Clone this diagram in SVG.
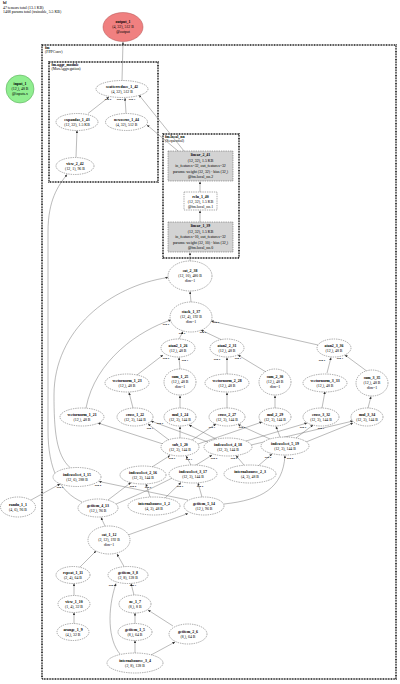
<svg xmlns="http://www.w3.org/2000/svg" width="400" height="684" viewBox="0 0 400 684">
<defs>
<marker id="a" viewBox="0 0 6 6" refX="6" refY="3" markerWidth="2.6" markerHeight="2.6" orient="auto" markerUnits="userSpaceOnUse"><path d="M0,0 L6,3 L0,6 z" fill="#333"/></marker>
<style>
text{font-family:"Liberation Serif","Times New Roman",serif;font-size:3.9px;fill:#000}
.t{text-anchor:middle}
.b{font-weight:bold}
.n ellipse{fill:#fff;stroke:#444;stroke-width:0.45;stroke-dasharray:1.4 0.9}
.g rect{fill:#d3d3d3;stroke:#444;stroke-width:0.45;stroke-dasharray:1.4 0.9}
.r rect{fill:#fff;stroke:#444;stroke-width:0.45;stroke-dasharray:1.4 0.9}
.cl{fill:none;stroke:#000;stroke-width:1.5;stroke-dasharray:0.9 0.7}
#edges path{fill:none;stroke:#666;stroke-width:0.45;marker-end:url(#a)}
.lb{font-size:2.9px;font-weight:bold;text-anchor:middle}
</style>
</defs>
<rect width="400" height="684" fill="#fff"/>
<text x="3" y="4" class="b">bf</text>
<text x="3" y="8.5">47 tensors total (13.1 KB)</text>
<text x="3" y="13">1408 params total (trainable, 5.5 KB)</text>

<g id="clusters">
<rect class="cl" x="42" y="45" width="354" height="634"/>
<text x="45" y="49" class="b">fm</text>
<text x="45" y="53">(FPPConv)</text>
<rect class="cl" x="49" y="62" width="109" height="120"/>
<text x="51.5" y="66" class="b">fm.aggr_module</text>
<text x="51.5" y="70">(MaxAggregation)</text>
<rect class="cl" x="163" y="134" width="76" height="124"/>
<text x="165" y="138" class="b">fm.local_nn</text>
<text x="165" y="142">(Sequential)</text>
</g>

<g id="edges">
<path d="M122,80.5 L123,42"/>
<path d="M126,113 L125,98"/>
<path d="M88,113.5 L109,97"/>
<path d="M184,151 L139,95"/>
<path d="M178,151 L147,125"/>
<path d="M76,157 L77,130.5"/>
<path d="M82,502 C60,492 48,470 48,430 L48,232 C48,200 58,186 67,174.5"/>
<path d="M191,302 L190,291.5"/>
<path d="M70,467.5 C56,455 54,430 54,395 C54,330 110,286 168,277.5"/>
<path d="M190,261 L190,252.5"/>
<path d="M200,222 L200,210.5"/>
<path d="M200,192 L200,181.5"/>
<path d="M86,408 C95,360 140,330 171,320"/>
<path d="M179,339 L183,331.5"/>
<path d="M222,340 L201,330"/>
<path d="M318,345 L211,321"/>
<path d="M137,375 L163,355"/>
<path d="M180,369 L179,357.5"/>
<path d="M227,374 L227,357.5"/>
<path d="M266,372 L238,355"/>
<path d="M327,373 L331,357.5"/>
<path d="M366,370.5 L345,355"/>
<path d="M133,408 L129,392.5"/>
<path d="M180,408 L180,395.5"/>
<path d="M227,408 L227,392.5"/>
<path d="M275,408 L275,395.5"/>
<path d="M322,408 L325,391.5"/>
<path d="M368,408 L371,396.5"/>
<path d="M163,444 L98,423"/>
<path d="M169,440 L148,424"/>
<path d="M180,438 L180,426.5"/>
<path d="M192,440 L216,424"/>
<path d="M198,444 L262,422"/>
<path d="M208,442 L151,421"/>
<path d="M216,439 L189,425"/>
<path d="M246,441 L307,423"/>
<path d="M251,445 L353,421"/>
<path d="M270,439 L238,424.5"/>
<path d="M280,437 L276,426.5"/>
<path d="M296,438 L313,425"/>
<path d="M306,442 L353,423"/>
<path d="M152,467 L170,455.5"/>
<path d="M191,465 L186,456"/>
<path d="M108,500 L131,482.5"/>
<path d="M116,504 C150,490 190,470 212,455"/>
<path d="M188,500 L99,481.5"/>
<path d="M202,497 L198,483"/>
<path d="M224,504 C262,500 283,488 285,455.5"/>
<path d="M150,497 L146,484"/>
<path d="M165,498 L181,482.5"/>
<path d="M244,465 L236,455.5"/>
<path d="M258,466 L272,454"/>
<path d="M31,500 L60,484"/>
<path d="M105,526 L101,517.5"/>
<path d="M128,535 L188,513.5"/>
<path d="M80,567 L96,551"/>
<path d="M124,566.5 L117,554"/>
<path d="M74,595.5 L74,583.5"/>
<path d="M74,623.5 L74,612.5"/>
<path d="M134,595 L131,583.5"/>
<path d="M120,654 C108,640 107,610 116,583.5"/>
<path d="M135,623.5 L135,613"/>
<path d="M173,626 L148,610"/>
<path d="M135,653 L135,640.5"/>
<path d="M151,655 L175,642"/>
</g>

<g id="edge-labels">
<text class="lb" x="108" y="100">arg 2</text>
<text class="lb" x="120" y="100">arg 0</text>
<text class="lb" x="132" y="100">arg 3</text>
<text class="lb" x="166" y="325">arg 0</text>
<text class="lb" x="182" y="334">arg 0</text>
<text class="lb" x="203" y="333">arg 0</text>
<text class="lb" x="216" y="323">arg 0</text>
<text class="lb" x="166" y="359">arg 0</text>
<text class="lb" x="185" y="361">arg 1</text>
<text class="lb" x="217" y="360">arg 0</text>
<text class="lb" x="238" y="359">arg 1</text>
<text class="lb" x="322" y="361">arg 0</text>
<text class="lb" x="340" y="359">arg 1</text>
<text class="lb" x="150" y="429">arg 1</text>
<text class="lb" x="160" y="424">arg 0</text>
<text class="lb" x="212" y="428">arg 1</text>
<text class="lb" x="242" y="428">arg 0</text>
<text class="lb" x="303" y="428">arg 0</text>
<text class="lb" x="321" y="429">arg 1</text>
<text class="lb" x="172" y="459">arg 0</text>
<text class="lb" x="189" y="460">arg 1</text>
<text class="lb" x="60" y="488">arg 0</text>
<text class="lb" x="98" y="486">arg 2</text>
<text class="lb" x="133" y="487">arg 2</text>
<text class="lb" x="148" y="488">arg 0</text>
<text class="lb" x="180" y="487">arg 0</text>
<text class="lb" x="200" y="487">arg 2</text>
<text class="lb" x="214" y="459">arg 2</text>
<text class="lb" x="234" y="459">arg 0</text>
<text class="lb" x="268" y="458">arg 0</text>
<text class="lb" x="290" y="459">arg 2</text>
<text class="lb" x="112" y="586">arg 0</text>
<text class="lb" x="133" y="586">arg 1</text>
</g>

<g id="output_1"><ellipse cx="123" cy="27" rx="20" ry="14.5" fill="#f08080" stroke="#b05050" stroke-width="0.5"/>
<text class="t b" x="123" y="23">output_1</text><text class="t" x="123" y="28">(4, 32), 512 B</text><text class="t" x="123" y="33">@output</text></g>
<g id="input_1"><ellipse cx="20" cy="89" rx="14" ry="14" fill="#90ee90" stroke="#50a050" stroke-width="0.5"/>
<text class="t b" x="20" y="85">input_1</text><text class="t" x="20" y="90">(12,), 48 B</text><text class="t" x="20" y="95">@inputs.x</text></g>

<g id="scatterreduce_1_42" class="n"><ellipse cx="122" cy="89" rx="26" ry="8.5"/><text class="t b" x="122" y="87.5">scatterreduce_1_42</text><text class="t" x="122" y="92.5">(4, 32), 512 B</text></g>
<g id="expandas_1_43" class="n"><ellipse cx="77" cy="122" rx="21" ry="8.5"/><text class="t b" x="77" y="120.5">expandas_1_43</text><text class="t" x="77" y="125.5">(12, 32), 1.5 KB</text></g>
<g id="newzeros_1_44" class="n"><ellipse cx="126.5" cy="122" rx="21" ry="8.5"/><text class="t b" x="126.5" y="120.5">newzeros_1_44</text><text class="t" x="126.5" y="125.5">(4, 32), 512 B</text></g>
<g id="view_2_42" class="n"><ellipse cx="75" cy="166" rx="19" ry="8.5"/><text class="t b" x="75" y="164.5">view_2_42</text><text class="t" x="75" y="169.5">(12, 1), 96 B</text></g>

<g id="linear_2_41" class="g"><rect x="168" y="151" width="65" height="30"/>
<text class="t b" x="200.5" y="156">linear_2_41</text><text class="t" x="200.5" y="161.5">(12, 32), 1.5 KB</text><text class="t" x="200.5" y="167">in_features=32, out_features=32</text><text class="t" x="200.5" y="172.5">params: weight (32, 32) · bias (32,)</text><text class="t" x="200.5" y="178">@fm.local_nn.2</text></g>
<g id="relu_1_40" class="r"><rect x="184" y="192" width="33" height="18"/>
<text class="t b" x="200.5" y="197.5">relu_1_40</text><text class="t" x="200.5" y="202.5">(12, 32), 1.5 KB</text><text class="t" x="200.5" y="207.5">@fm.local_nn.1</text></g>
<g id="linear_1_39" class="g"><rect x="168" y="222" width="65" height="30"/>
<text class="t b" x="200.5" y="227">linear_1_39</text><text class="t" x="200.5" y="232.5">(12, 32), 1.5 KB</text><text class="t" x="200.5" y="238">in_features=10, out_features=32</text><text class="t" x="200.5" y="243.5">params: weight (32, 10) · bias (32,)</text><text class="t" x="200.5" y="249">@fm.local_nn.0</text></g>

<g id="cat_2_38" class="n"><ellipse cx="190" cy="276" rx="22" ry="15"/><text class="t b" x="190" y="272">cat_2_38</text><text class="t" x="190" y="277">(12, 10), 480 B</text><text class="t" x="190" y="282">dim=1</text></g>
<g id="stack_1_37" class="n"><ellipse cx="191" cy="317" rx="21" ry="15"/><text class="t b" x="191" y="313">stack_1_37</text><text class="t" x="191" y="318">(12, 4), 192 B</text><text class="t" x="191" y="323">dim=1</text></g>

<g id="atan2_1_26" class="n"><ellipse cx="178" cy="348" rx="17" ry="9"/><text class="t b" x="178" y="346.5">atan2_1_26</text><text class="t" x="178" y="351.5">(12,), 48 B</text></g>
<g id="atan2_2_31" class="n"><ellipse cx="227" cy="348" rx="17" ry="9"/><text class="t b" x="227" y="346.5">atan2_2_31</text><text class="t" x="227" y="351.5">(12,), 48 B</text></g>
<g id="atan2_3_36" class="n"><ellipse cx="334" cy="348" rx="17" ry="9"/><text class="t b" x="334" y="346.5">atan2_3_36</text><text class="t" x="334" y="351.5">(12,), 48 B</text></g>

<g id="vectornorm_1_23" class="n"><ellipse cx="127" cy="383" rx="22" ry="9"/><text class="t b" x="127" y="381.5">vectornorm_1_23</text><text class="t" x="127" y="386.5">(12,), 48 B</text></g>
<g id="sum_1_25" class="n"><ellipse cx="180" cy="382" rx="16" ry="13"/><text class="t b" x="180" y="378">sum_1_25</text><text class="t" x="180" y="383">(12,), 48 B</text><text class="t" x="180" y="388">dim=1</text></g>
<g id="vectornorm_2_28" class="n"><ellipse cx="227" cy="383" rx="22" ry="9"/><text class="t b" x="227" y="381.5">vectornorm_2_28</text><text class="t" x="227" y="386.5">(12,), 48 B</text></g>
<g id="sum_2_30" class="n"><ellipse cx="275" cy="382" rx="16" ry="13"/><text class="t b" x="275" y="378">sum_2_30</text><text class="t" x="275" y="383">(12,), 48 B</text><text class="t" x="275" y="388">dim=1</text></g>
<g id="vectornorm_3_33" class="n"><ellipse cx="325" cy="383" rx="22" ry="9"/><text class="t b" x="325" y="381.5">vectornorm_3_33</text><text class="t" x="325" y="386.5">(12,), 48 B</text></g>
<g id="sum_3_35" class="n"><ellipse cx="372" cy="383" rx="16" ry="13"/><text class="t b" x="372" y="379">sum_3_35</text><text class="t" x="372" y="384">(12,), 48 B</text><text class="t" x="372" y="389">dim=1</text></g>

<g id="vectornorm_1_21" class="n"><ellipse cx="82" cy="417" rx="22" ry="9"/><text class="t b" x="82" y="415.5">vectornorm_1_21</text><text class="t" x="82" y="420.5">(12,), 48 B</text></g>
<g id="cross_1_22" class="n"><ellipse cx="135" cy="417" rx="18" ry="9"/><text class="t b" x="135" y="415.5">cross_1_22</text><text class="t" x="135" y="420.5">(12, 3), 144 B</text></g>
<g id="mul_1_24" class="n"><ellipse cx="180" cy="417" rx="16" ry="9"/><text class="t b" x="180" y="415.5">mul_1_24</text><text class="t" x="180" y="420.5">(12, 3), 144 B</text></g>
<g id="cross_2_27" class="n"><ellipse cx="227" cy="417" rx="18" ry="9"/><text class="t b" x="227" y="415.5">cross_2_27</text><text class="t" x="227" y="420.5">(12, 3), 144 B</text></g>
<g id="mul_2_29" class="n"><ellipse cx="275" cy="417" rx="16" ry="9"/><text class="t b" x="275" y="415.5">mul_2_29</text><text class="t" x="275" y="420.5">(12, 3), 144 B</text></g>
<g id="cross_3_32" class="n"><ellipse cx="321" cy="417" rx="18" ry="9"/><text class="t b" x="321" y="415.5">cross_3_32</text><text class="t" x="321" y="420.5">(12, 3), 144 B</text></g>
<g id="mul_3_34" class="n"><ellipse cx="367" cy="417" rx="16" ry="9"/><text class="t b" x="367" y="415.5">mul_3_34</text><text class="t" x="367" y="420.5">(12, 3), 144 B</text></g>

<g id="sub_1_20" class="n"><ellipse cx="180" cy="447" rx="19" ry="9"/><text class="t b" x="180" y="445.5">sub_1_20</text><text class="t" x="180" y="450.5">(12, 3), 144 B</text></g>
<g id="indexselect_4_18" class="n"><ellipse cx="228" cy="447" rx="24" ry="9"/><text class="t b" x="228" y="445.5">indexselect_4_18</text><text class="t" x="228" y="450.5">(12, 3), 144 B</text></g>
<g id="indexselect_5_19" class="n"><ellipse cx="285" cy="446" rx="24" ry="9"/><text class="t b" x="285" y="444.5">indexselect_5_19</text><text class="t" x="285" y="449.5">(12, 3), 144 B</text></g>

<g id="indexselect_1_15" class="n"><ellipse cx="77" cy="477" rx="24" ry="9.5"/><text class="t b" x="77" y="475.5">indexselect_1_15</text><text class="t" x="77" y="480.5">(12, 6), 288 B</text></g>
<g id="indexselect_2_16" class="n"><ellipse cx="143" cy="475" rx="23" ry="9"/><text class="t b" x="143" y="473.5">indexselect_2_16</text><text class="t" x="143" y="478.5">(12, 3), 144 B</text></g>
<g id="indexselect_3_17" class="n"><ellipse cx="193" cy="474" rx="24" ry="9"/><text class="t b" x="193" y="472.5">indexselect_3_17</text><text class="t" x="193" y="477.5">(12, 3), 144 B</text></g>
<g id="internalsource_2_3" class="n"><ellipse cx="250" cy="474" rx="26" ry="9"/><text class="t b" x="250" y="472.5">internalsource_2_3</text><text class="t" x="250" y="477.5">(4, 3), 48 B</text></g>

<g id="randn_1_1" class="n"><ellipse cx="18" cy="507" rx="17.5" ry="10"/><text class="t b" x="18" y="505.5">randn_1_1</text><text class="t" x="18" y="510.5">(4, 6), 96 B</text></g>
<g id="getitem_4_13" class="n"><ellipse cx="98" cy="508" rx="20" ry="9"/><text class="t b" x="98" y="506.5">getitem_4_13</text><text class="t" x="98" y="511.5">(12,), 96 B</text></g>
<g id="internalsource_1_2" class="n"><ellipse cx="154" cy="506" rx="26" ry="9"/><text class="t b" x="154" y="504.5">internalsource_1_2</text><text class="t" x="154" y="509.5">(4, 3), 48 B</text></g>
<g id="getitem_5_14" class="n"><ellipse cx="204" cy="506" rx="20" ry="9"/><text class="t b" x="204" y="504.5">getitem_5_14</text><text class="t" x="204" y="509.5">(12,), 96 B</text></g>

<g id="cat_1_12" class="n"><ellipse cx="109" cy="540" rx="21" ry="14"/><text class="t b" x="109" y="536">cat_1_12</text><text class="t" x="109" y="541">(2, 12), 192 B</text><text class="t" x="109" y="546">dim=1</text></g>
<g id="repeat_1_11" class="n"><ellipse cx="73" cy="575" rx="17" ry="8.5"/><text class="t b" x="73" y="573.5">repeat_1_11</text><text class="t" x="73" y="578.5">(2, 4), 64 B</text></g>
<g id="getitem_3_8" class="n"><ellipse cx="128" cy="575" rx="20" ry="8.5"/><text class="t b" x="128" y="573.5">getitem_3_8</text><text class="t" x="128" y="578.5">(2, 8), 128 B</text></g>
<g id="view_1_10" class="n"><ellipse cx="74" cy="604" rx="16" ry="8.5"/><text class="t b" x="74" y="602.5">view_1_10</text><text class="t" x="74" y="607.5">(1, 4), 32 B</text></g>
<g id="ne_1_7" class="n"><ellipse cx="135" cy="604" rx="16" ry="9"/><text class="t b" x="135" y="602.5">ne_1_7</text><text class="t" x="135" y="607.5">(8,), 8 B</text></g>
<g id="arange_1_9" class="n"><ellipse cx="73" cy="632" rx="16" ry="8.5"/><text class="t b" x="73" y="630.5">arange_1_9</text><text class="t" x="73" y="635.5">(4,), 32 B</text></g>
<g id="getitem_1_5" class="n"><ellipse cx="135" cy="632" rx="17" ry="8.5"/><text class="t b" x="135" y="630.5">getitem_1_5</text><text class="t" x="135" y="635.5">(8,), 64 B</text></g>
<g id="getitem_2_6" class="n"><ellipse cx="188" cy="634" rx="19" ry="10"/><text class="t b" x="188" y="632.5">getitem_2_6</text><text class="t" x="188" y="637.5">(8,), 64 B</text></g>
<g id="internalsource_3_4" class="n"><ellipse cx="135" cy="663" rx="28" ry="10"/><text class="t b" x="135" y="661.5">internalsource_3_4</text><text class="t" x="135" y="666.5">(2, 8), 128 B</text></g>
</svg>
